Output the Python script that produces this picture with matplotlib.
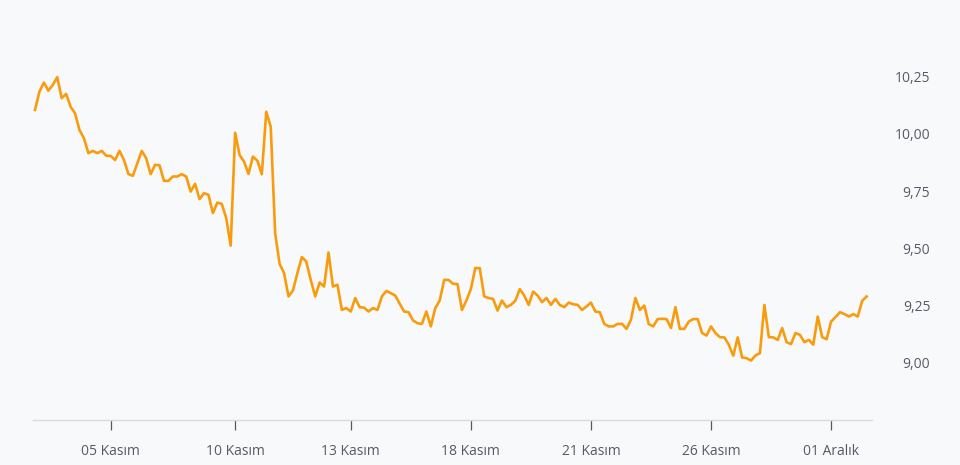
import matplotlib.pyplot as plt
from matplotlib.ticker import FuncFormatter

# Price series (evenly spaced samples)
prices = [
    10.105, 10.185, 10.224, 10.189, 10.214, 10.248, 10.156, 10.175, 10.119, 10.090,
    10.017, 9.981, 9.916, 9.926, 9.916, 9.926, 9.905, 9.904, 9.886, 9.926,
    9.886, 9.825, 9.817, 9.872, 9.926, 9.894, 9.824, 9.865, 9.863, 9.795,
    9.795, 9.814, 9.814, 9.824, 9.814, 9.748, 9.782, 9.715, 9.741, 9.734,
    9.654, 9.700, 9.694, 9.632, 9.512, 10.005, 9.908, 9.879, 9.825, 9.901,
    9.883, 9.824, 10.097, 10.032, 9.566, 9.432, 9.392, 9.290, 9.316, 9.392,
    9.462, 9.442, 9.362, 9.290, 9.351, 9.333, 9.482,
    9.333, 9.341, 9.231, 9.239, 9.224, 9.283, 9.243, 9.241, 9.224, 9.239,
    9.231, 9.290, 9.314, 9.304, 9.294, 9.258, 9.224, 9.221, 9.185, 9.173,
    9.170, 9.224, 9.159, 9.239, 9.272, 9.362, 9.362, 9.345, 9.344, 9.231,
    9.272, 9.322, 9.414, 9.414, 9.290, 9.283, 9.279, 9.228, 9.272, 9.243,
    9.253, 9.271, 9.322, 9.294, 9.253, 9.311, 9.294, 9.265, 9.283, 9.253,
    9.279, 9.253, 9.243, 9.263, 9.256, 9.253, 9.231, 9.246, 9.263, 9.224,
    9.221, 9.170, 9.159, 9.159, 9.170, 9.170,
    9.148, 9.188, 9.283, 9.231, 9.250, 9.169, 9.159, 9.191, 9.192, 9.191,
    9.152, 9.243, 9.148, 9.148, 9.180, 9.191, 9.191, 9.130, 9.119, 9.159,
    9.130, 9.112, 9.111, 9.079, 9.031, 9.111, 9.023, 9.020, 9.010, 9.032,
    9.042, 9.253, 9.112, 9.111, 9.100, 9.152, 9.090, 9.082, 9.130, 9.122,
    9.090, 9.100, 9.079, 9.202, 9.112, 9.103, 9.180, 9.200, 9.221, 9.213,
    9.202, 9.213, 9.202, 9.271, 9.290,
]

tick_pos = [17, 45, 71, 98, 125, 152, 179]
tick_labels = ["05 Kasım", "10 Kasım", "13 Kasım", "18 Kasım", "21 Kasım", "26 Kasım", "01 Aralık"]
y_ticks = [9.00, 9.25, 9.50, 9.75, 10.00, 10.25]

plt.rcParams['font.family'] = ['Open Sans', 'DejaVu Sans']

bg = '#f8f9fb'
fig = plt.figure(figsize=(9.6, 4.65), dpi=100, facecolor=bg)
ax = fig.add_axes([33 / 960, 1 - 420 / 465, (872 - 33) / 960, (420 - 19.5) / 465])
ax.set_facecolor(bg)

ax.plot(range(len(prices)), prices, color='#f89c0e', linewidth=1.9, solid_joinstyle='round')

ax.set_xlim(-0.45, len(prices) - 1 + 1.2)
ax.set_ylim(8.75, 10.5)

ax.set_xticks(tick_pos)
ax.set_xticklabels(tick_labels)
ax.tick_params(axis='x', length=7, width=0.9, color='#555b66', pad=10,
               labelsize=10, labelcolor='#555b66')

ax.yaxis.tick_right()
ax.set_yticks(y_ticks)
ax.yaxis.set_major_formatter(FuncFormatter(lambda v, p: f"{v:.2f}".replace('.', ',')))
ax.tick_params(axis='y', length=0, pad=42, labelsize=10, labelcolor='#555b66')
for lbl in ax.get_yticklabels():
    lbl.set_horizontalalignment('right')

for s in ['top', 'left', 'right']:
    ax.spines[s].set_visible(False)
ax.spines['bottom'].set_color('#d9dbe0')
ax.spines['bottom'].set_linewidth(1)

fig.savefig('out.png', dpi=100, facecolor=bg)
